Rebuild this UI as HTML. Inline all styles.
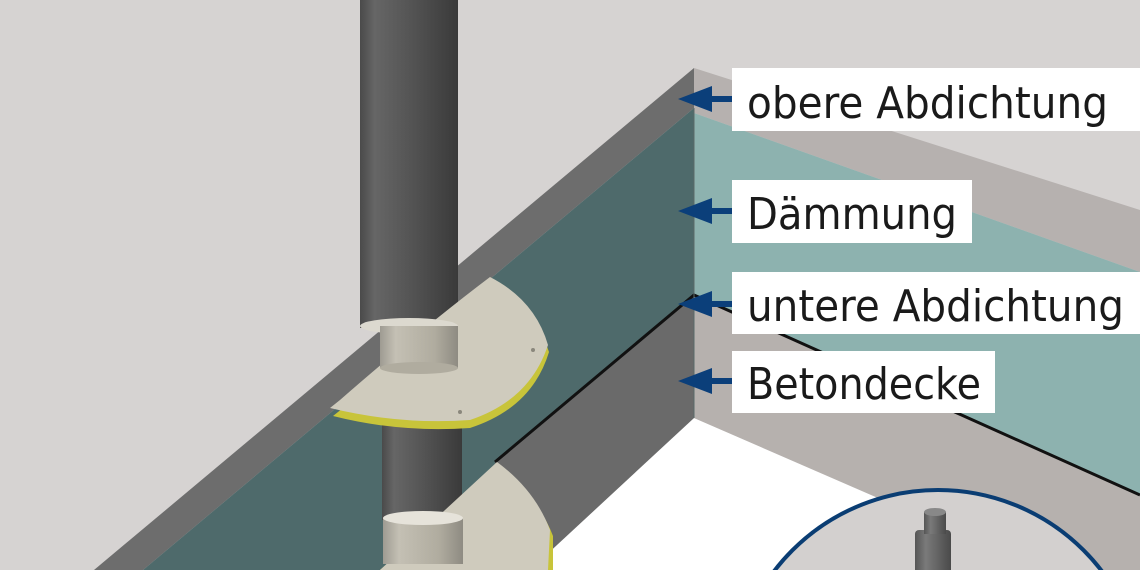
<!DOCTYPE html>
<html><head><meta charset="utf-8"><style>
html,body{margin:0;padding:0;background:#d6d3d2;overflow:hidden;width:1140px;height:570px}
svg{display:block}
text{font-family:"DejaVu Sans","Liberation Sans",sans-serif;fill:#1a1a1a;}
</style></head><body>
<svg width="1140" height="570" viewBox="0 0 1140 570" xmlns="http://www.w3.org/2000/svg">
<defs>
<linearGradient id="pipe" x1="0" x2="1" y1="0" y2="0">
<stop offset="0" stop-color="#4a4a4a"/><stop offset="0.15" stop-color="#666"/><stop offset="0.5" stop-color="#555"/><stop offset="1" stop-color="#3a3a3a"/></linearGradient>
<linearGradient id="sleeve" x1="0" x2="1" y1="0" y2="0">
<stop offset="0" stop-color="#9e9b92"/><stop offset="0.2" stop-color="#c4c0b4"/><stop offset="0.7" stop-color="#b0ac9f"/><stop offset="1" stop-color="#8e8b82"/></linearGradient>
<linearGradient id="fit" x1="0" x2="1"><stop offset="0" stop-color="#555"/><stop offset="0.3" stop-color="#7a7a7a"/><stop offset="1" stop-color="#4a4a4a"/></linearGradient>
</defs>
<rect width="1140" height="570" fill="#d6d3d2"/>
<polygon points="530,570 694,418 1140,610 1140,570" fill="#ffffff"/>
<polygon points="694,68 1140,210 1140,272 694,113" fill="#b6b1af"/>
<polygon points="694,113 1140,272 1140,495 694,295" fill="#8db2af"/>
<polygon points="694,295 1140,495 1140,612 694,418" fill="#b6b1ae"/>
<polygon points="694,68 94,570 143,570 694,108" fill="#6d6d6d"/>
<polygon points="694,108 143,570 495,570 495,462 694,295" fill="#4e6a6b"/>
<polygon points="694,295 495,462 495,570 530,570 694,418" fill="#6a6a6a"/>
<polyline points="495,462 694,295 1140,495" fill="none" stroke="#111" stroke-width="3"/>
<line x1="694" y1="108" x2="694" y2="418" stroke="#5a6a6a" stroke-width="1"/>
<circle cx="938" cy="696" r="206" fill="#d3d0cf" stroke="#0a3d73" stroke-width="4"/>
<rect x="915" y="530" width="36" height="45" rx="4" fill="url(#fit)"/>
<rect x="924" y="512" width="22" height="22" fill="url(#fit)"/>
<ellipse cx="935" cy="512" rx="11" ry="4" fill="#888"/>
<rect x="360" y="0" width="98" height="328" fill="url(#pipe)"/>
<rect x="382" y="415" width="80" height="105" fill="url(#pipe)"/>
<!-- lower flange -->
<path d="M497,468 Q538,496 553,536 L553,570 L380,570 Z" fill="#c8c43a"/>
<path d="M497,462 Q535,490 550,530 L548,570 L380,570 Z" fill="#cfcbbd"/>
<rect x="383" y="518" width="80" height="46" fill="url(#sleeve)"/>
<ellipse cx="423" cy="518" rx="40" ry="7" fill="#e6e3da"/>
<!-- upper flange -->
<path d="M333,416 L343,408 Q420,338 490,285 Q535,308 549,352 Q532,408 470,428 Q400,433 333,416 Z" fill="#c8c43a"/>
<path d="M330,408 L340,400 Q420,330 490,277 Q535,300 548,345 Q530,400 470,420 Q400,425 330,408 Z" fill="#cfcbbd"/>
<ellipse cx="409" cy="326" rx="49" ry="8" fill="#dcd9cf"/>
<rect x="380" y="326" width="78" height="42" fill="url(#sleeve)"/>
<ellipse cx="419" cy="368" rx="39" ry="6" fill="#b0ac9f"/>
<circle cx="533" cy="350" r="2" fill="#8a877c"/><circle cx="460" cy="412" r="2" fill="#8a877c"/>
<g fill="#fff">
<rect x="732" y="68" width="408" height="63"/>
<rect x="732" y="180" width="240" height="63"/>
<rect x="732" y="272" width="408" height="62"/>
<rect x="732" y="351" width="263" height="62"/>
</g>
<g fill="#0b3f7a">
<polygon points="678,99 712,86 712,112"/><rect x="710" y="96" width="22" height="6"/>
<polygon points="678,211 712,198 712,224"/><rect x="710" y="208" width="22" height="6"/>
<polygon points="678,304 712,291 712,317"/><rect x="710" y="301" width="22" height="6"/>
<polygon points="678,381 712,368 712,394"/><rect x="710" y="378" width="22" height="6"/>
</g>
<text x="747" y="118" font-size="44" textLength="361" lengthAdjust="spacingAndGlyphs">obere Abdichtung</text>
<text x="747" y="229" font-size="44" textLength="210" lengthAdjust="spacingAndGlyphs">Dämmung</text>
<text x="747" y="321" font-size="44" textLength="377" lengthAdjust="spacingAndGlyphs">untere Abdichtung</text>
<text x="747" y="399" font-size="44" textLength="234" lengthAdjust="spacingAndGlyphs">Betondecke</text>
</svg>
</body></html>
